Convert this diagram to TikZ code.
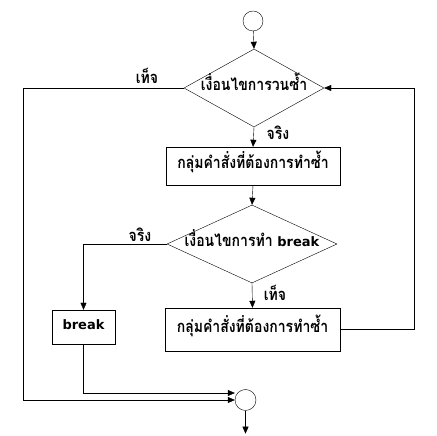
\documentclass[tikz,border=0pt]{standalone}
\usepackage{fontspec}
\newfontfamily\thaifont[Script=Thai,FakeStretch=0.85]{Loma}
\newfontfamily\latinfont{DejaVu Sans}
\newcommand\kw[1]{{\latinfont\bfseries\fontsize{13}{15}\selectfont #1}}
\usetikzlibrary{shapes.geometric,arrows.meta}
\begin{document}
\begin{tikzpicture}[x=1pt,y=1pt,
  font=\thaifont\bfseries\fontsize{16.5}{18}\selectfont,
  terminal/.style={circle, draw=black, minimum size=20pt, inner sep=0pt},
  decision/.style={diamond, draw=black, inner sep=0pt, text height=8pt, text depth=2pt},
  process/.style={rectangle, draw=black, inner sep=0pt, text height=8pt, text depth=2pt},
  flow/.style={-{Triangle[length=7pt,width=6pt]}, draw=black}]
\useasboundingbox (0,0) rectangle (437,436);
% nodes
\node [terminal] (start) at (253,415) {};
\node [decision, shape aspect=1.8, minimum width=140pt, minimum height=78pt] (loop) at (254,348) {เงื่อนไขการวนซ้ำ};
\node [process, minimum width=174pt, minimum height=38pt] (body1) at (253,270) {กลุ่มคำสั่งที่ต้องการทำซ้ำ};
\node [decision, shape aspect=2.2, minimum width=170pt, minimum height=78pt] (brkcond) at (252,192) {เงื่อนไขการทำ \kw{break}};
\node [process, minimum width=63pt, minimum height=34pt] (brk) at (83.5,109) {\kw{break}};
\node [process, minimum width=175pt, minimum height=43pt] (body2) at (252.5,106.5) {กลุ่มคำสั่งที่ต้องการทำซ้ำ};
\node [terminal, minimum size=21pt] (stop) at (245.5,36) {};
% labels
\node (f1) at (147,360) {เท็จ};
\node (t1) at (278,303) {จริง};
\node (t2) at (140,201) {จริง};
\node (f2) at (275,143) {เท็จ};
% connectors
\draw [flow] (start) -- (loop.north);
\draw [flow] (loop.south) -- (body1.north);
\draw [flow] (body1.south) -- (brkcond.north);
\draw [flow] (brkcond.south) -- (body2.north);
\draw [flow] (brkcond.west) -| (brk.north);
\draw [flow] (body2.east) -- ++(74,0) |- (loop.east);
\draw [flow] (loop.west) -- ++(-161,0) |- (stop.west);
\draw [flow] (brk.south) |- ([yshift=7pt]stop.west);
\draw [flow] (stop.south) -- ++(0,-23);
\end{tikzpicture}
\end{document}
